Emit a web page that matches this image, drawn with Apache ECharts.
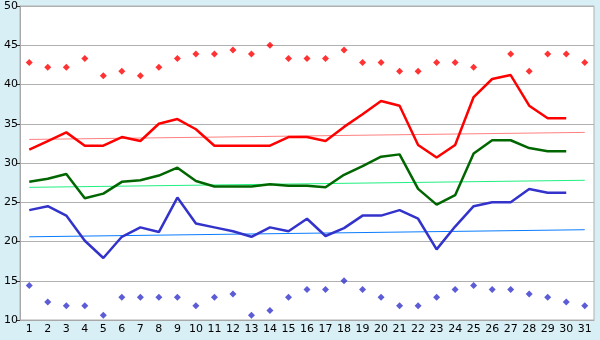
<!DOCTYPE html>
<html>
<head>
<meta charset="utf-8">
<script src="https://cdn.jsdelivr.net/npm/echarts@6/dist/echarts.min.js"></script>
<style>
html, body { margin: 0; padding: 0; background: #d9eff6; }
#main { width: 600px; height: 340px; }
</style>
</head>
<body>
<div id="main"></div>
<script>
// days of the month
var days = [];
for (var d = 1; d <= 31; d++) days.push(String(d));

// max points (red), null = no point
var maxVals = [42.8, 42.2, 42.2, 43.3, 41.1, 41.7, 41.1, 42.2, 43.3, 43.9,
    43.9, 44.4, 43.9, 45.0, 43.3, 43.3, 43.3, 44.4, 42.8, 42.8,
    41.7, 41.7, 42.8, 42.8, 42.2, null, 43.9, 41.7, 43.9, 43.9, 42.8];
// upper line (red)
var highVals = [31.7, 32.8, 33.9, 32.2, 32.2, 33.3, 32.8, 35.0, 35.6, 34.3,
    32.2, 32.2, 32.2, 32.2, 33.3, 33.3, 32.8, 34.6, 36.2, 37.9,
    37.3, 32.3, 30.7, 32.3, 38.4, 40.7, 41.2, 37.3, 35.7, 35.7, null];
// mean line (green)
var meanVals = [27.6, 28.0, 28.6, 25.5, 26.1, 27.6, 27.8, 28.4, 29.4, 27.7,
    27.0, 27.0, 27.0, 27.3, 27.1, 27.1, 26.9, 28.5, 29.6, 30.8,
    31.1, 26.7, 24.7, 25.9, 31.2, 32.9, 32.9, 31.9, 31.5, 31.5, null];
// lower line (blue)
var lowVals = [24.0, 24.5, 23.3, 20.1, 17.9, 20.6, 21.8, 21.2, 25.6, 22.3,
    21.8, 21.3, 20.6, 21.8, 21.3, 22.9, 20.7, 21.7, 23.3, 23.3,
    24.0, 22.9, 19.0, 21.9, 24.5, 25.0, 25.0, 26.7, 26.2, 26.2, null];
// min points (blue)
var minVals = [14.4, 12.3, 11.8, 11.8, 10.6, 12.9, 12.9, 12.9, 12.9, 11.8,
    12.9, 13.3, 10.6, 11.2, 12.9, 13.9, 13.9, 15.0, 13.9, 12.9,
    11.8, 11.8, 12.9, 13.9, 14.4, 13.9, 13.9, 13.3, 12.9, 12.3, 11.8];

// trend lines: value at day 1 and day 31
var highTrend = [33.0, 33.9];
var meanTrend = [26.9, 27.8];
var lowTrend = [20.6, 21.5];

function trendData(t) {
    var arr = [];
    for (var i = 0; i < days.length; i++) arr.push(null);
    arr[0] = t[0];
    arr[days.length - 1] = t[1];
    return arr;
}

var myChart = echarts.init(document.getElementById('main'));

function lineSeries(data, color, width) {
    return {
        type: 'line',
        data: data,
        symbol: 'none',
        connectNulls: true,
        animation: false,
        lineStyle: { color: color, width: width },
        z: width > 1 ? 3 : 2
    };
}

function dotSeries(data, color) {
    return {
        type: 'scatter',
        data: data,
        symbol: 'diamond',
        symbolSize: 7,
        animation: false,
        itemStyle: { color: color },
        z: 4
    };
}

option = {
    backgroundColor: '#d9eff6',
    textStyle: { fontFamily: 'DejaVu Sans' },
    grid: {
        left: 20,
        right: 6,
        top: 6,
        bottom: 20,
        show: true,
        backgroundColor: '#ffffff',
        borderColor: '#b0b0b0',
        borderWidth: 1
    },
    xAxis: {
        type: 'category',
        data: days,
        boundaryGap: true,
        axisLine: { lineStyle: { color: '#a8a8a8', width: 1 } },
        axisTick: { alignWithLabel: true, length: 5, lineStyle: { color: '#333333' } },
        axisLabel: { color: '#000', fontSize: 11, margin: 4, interval: 0 },
        splitLine: { show: false }
    },
    yAxis: {
        type: 'value',
        min: 10,
        max: 50,
        interval: 5,
        axisLine: { show: true, lineStyle: { color: '#a8a8a8', width: 1 } },
        axisTick: { show: true, length: 4, lineStyle: { color: '#333333' } },
        axisLabel: { color: '#000', fontSize: 11, margin: 2 },
        splitLine: { lineStyle: { color: '#b0b0b0', width: 1 } }
    },
    series: [
        lineSeries(trendData(highTrend), '#ff8080', 1),
        lineSeries(trendData(meanTrend), '#20f080', 1),
        lineSeries(trendData(lowTrend), '#0a7cff', 1),
        lineSeries(highVals, '#ff0000', 2.5),
        lineSeries(meanVals, '#006600', 2.5),
        lineSeries(lowVals, '#3333cc', 2.5),
        dotSeries(maxVals, '#ff0000'),
        dotSeries(minVals, '#3333cc')
    ]
};

myChart.setOption(option);
</script>
</body>
</html>
